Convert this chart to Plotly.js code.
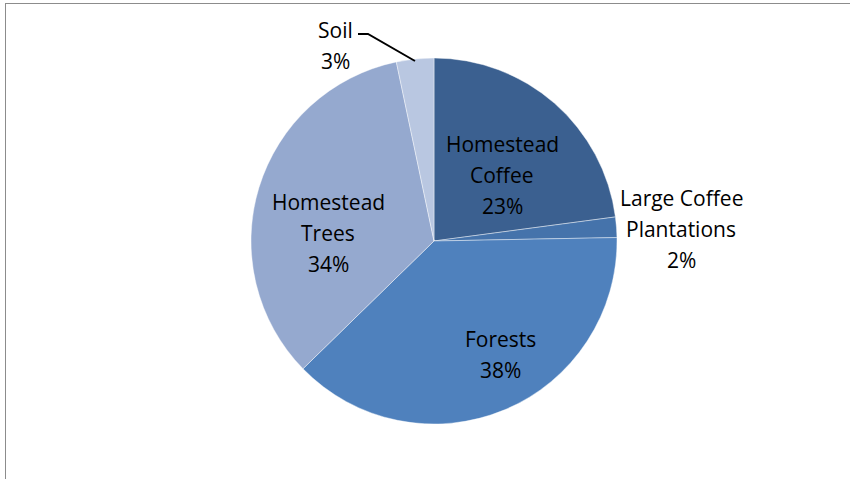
<!DOCTYPE html>
<html><head><meta charset="utf-8">
<script src="https://cdn.plot.ly/plotly-3.0.1.min.js"></script>
<style>
html,body{margin:0;padding:0;background:#fff;}
#wrap{position:relative;width:850px;height:479px;overflow:hidden;}
#chart{position:absolute;left:0;top:0;width:850px;height:479px;}
#frame{position:absolute;left:5px;top:3px;width:900px;height:600px;border-top:1.5px solid #8c8c8c;border-left:1.5px solid #8c8c8c;pointer-events:none;}
</style></head>
<body><div id="wrap"><div id="chart"></div><div id="frame"></div></div>
<script>
const categories = ["Homestead Coffee", "Large Coffee Plantations", "Forests", "Homestead Trees", "Soil"];
const labelLines = [["Homestead","Coffee"], ["Large Coffee","Plantations"], ["Forests"], ["Homestead","Trees"], ["Soil"]];
const values = [22.9, 1.8, 38.0, 34.0, 3.3];
const colors = ["#3b6090", "#4573ab", "#4f81bd", "#95a9cf", "#b9c7e1"];

const W = 850, H = 479;
const cx = 434, cy = 241, R = 183;
// first-line centre of each label block (pixels), line spacing
const labelPos = [[502, 143], [681, 197], [501, 338], [328, 201], [335, 29]];
const lineStep = 31;

const total = values.reduce((a,b)=>a+b,0);
const annotations = [];
categories.forEach((c,i)=>{
  const pct = Math.round(values[i]/total*100) + "%";
  const lines = labelLines[i].concat([pct]);
  lines.forEach((t,k)=>{
    annotations.push({
      text: t,
      x: labelPos[i][0]/W, y: 1 - (labelPos[i][1] + k*lineStep + 1)/H,
      xref: "paper", yref: "paper", showarrow: false,
      xanchor: "center", yanchor: "middle", align: "center",
      font: {family: "Open Sans, Noto Sans, sans-serif", size: 21, color: "#000"}
    });
  });
});

const shapes = [{
  type: "path", xref: "paper", yref: "paper",
  path: `M ${358/W} ${1-34/H} L ${368/W} ${1-34/H} L ${415/W} ${1-61/H}`,
  line: {color: "#000", width: 2}
}];

const data = [{
  type: "pie",
  labels: categories,
  values: values,
  sort: false,
  direction: "clockwise",
  rotation: 0,
  textinfo: "none",
  hoverinfo: "label+percent",
  marker: {colors: colors, line: {color: "rgba(255,255,255,0.6)", width: 0.7}},
  domain: {x: [(cx-R)/W, (cx+R)/W], y: [1-(cy+R)/H, 1-(cy-R)/H]},
  showlegend: false
}];

const layout = {
  width: W, height: H,
  margin: {l:0, r:0, t:0, b:0},
  paper_bgcolor: "#fff", plot_bgcolor: "#fff",
  showlegend: false,
  annotations: annotations,
  shapes: shapes
};
Plotly.newPlot("chart", data, layout, {displayModeBar: false, staticPlot: true});
</script></body></html>
